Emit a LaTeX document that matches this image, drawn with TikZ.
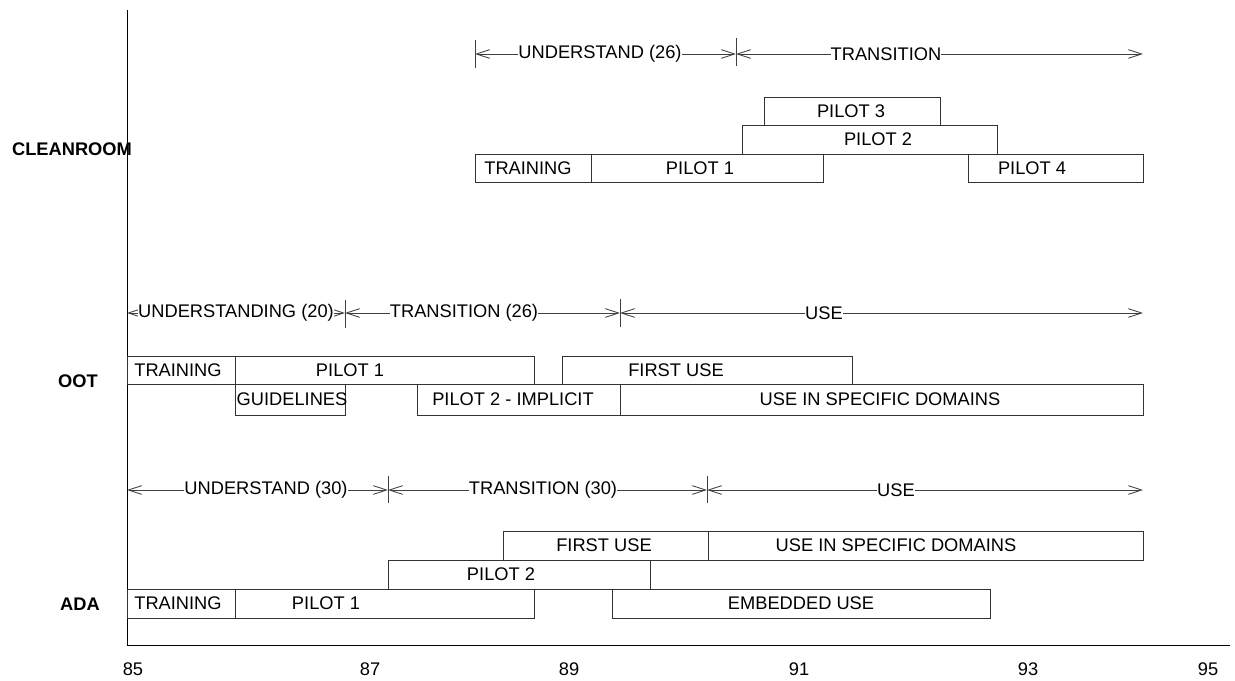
\documentclass[tikz,border=0pt]{standalone}
\usepackage{fontspec}
\setmainfont{Liberation Sans}
\usetikzlibrary{arrows.meta}
\begin{document}
\begin{tikzpicture}[x=0.75pt,y=-0.75pt,
  font=\fontsize{13.7}{16}\selectfont,
  bar/.style={draw=black!80, line width=0.75pt, rectangle, inner sep=0pt},
  txt/.style={inner sep=0pt, anchor=center},
  span/.style={draw=black!75, line width=0.65pt, {Straight Barb[length=10pt,width=6.5pt]}-{Straight Barb[length=10pt,width=6.5pt]}},
  lab/.style={fill=white, inner xsep=0pt, inner ysep=1pt},
  tick/.style={draw=black!75, line width=0.65pt},
  grp/.style={font=\fontsize{13.7}{16}\selectfont\bfseries},
  axis/.style={draw=black, line width=0.75pt}]
\useasboundingbox (0,0) rectangle (1235,681);
\newcommand\bx[6]{\node[bar, minimum width={(#3-#2)*0.75pt}, minimum height={(#5-#4)*0.75pt}, anchor=north west] (#1) at (#2,#4) {};}
% axes
\coordinate (ytop) at (127,10);
\coordinate (org) at (127,645);
\coordinate (xend) at (1230,645);
\draw[axis] (ytop) -- (org) -- (xend);
\node[txt] (t85) at (133,669) {85};
\node[txt] (t87) at (370,669) {87};
\node[txt] (t89) at (569,669) {89};
\node[txt] (t91) at (799,669) {91};
\node[txt] (t93) at (1028,669) {93};
\node[txt] (t95) at (1208,669) {95};
% group labels
\node[grp] (gclean) at (72,149) {CLEANROOM};
\node[grp] (goot) at (78,381) {OOT};
\node[grp] (gada) at (80,604) {ADA};
% ---------- CLEANROOM ----------
\coordinate (ca) at (475,54);
\coordinate (cb) at (736,54);
\coordinate (cc) at (1143,54);
\draw[tick] (475,40) -- (475,68);
\draw[tick] (736,38) -- (736,66);
\draw[span] (ca) -- (cb);
\draw[span] (cb) -- (cc);
\node[lab] (cl1) at (600,54) {UNDERSTAND (26)};
\node[lab] (cl2) at (886,54) {TRANSITION};
\bx{cp3}{764}{940}{97}{125}{}
\node[txt] (cp3t) at (851,111) {PILOT 3};
\bx{cp2}{742}{997}{125}{154}{}
\node[txt] (cp2t) at (878,139.5) {PILOT 2};
\bx{ctr}{475}{591}{154}{182}{}
\node[txt] (ctrt) at (528,168) {TRAINING};
\bx{cp1}{591}{823}{154}{182}{}
\node[txt] (cp1t) at (700,168) {PILOT 1};
\bx{cp4}{968}{1143}{154}{182}{}
\node[txt] (cp4t) at (1032,168) {PILOT 4};
% ---------- OOT ----------
\coordinate (oa) at (127,313);
\coordinate (ob) at (345,313);
\coordinate (oc) at (620,313);
\coordinate (od) at (1143,313);
\draw[tick] (345,300) -- (345,328);
\draw[tick] (620,299) -- (620,327);
\draw[span] (oa) -- (ob);
\draw[span] (ob) -- (oc);
\draw[span] (oc) -- (od);
\node[lab] (ol1) at (236,313) {UNDERSTANDING (20)};
\node[lab] (ol2) at (464,313) {TRANSITION (26)};
\node[lab] (ol3) at (824,313) {USE};
\bx{otr}{127}{235}{356}{384}{}
\node[txt] (otrt) at (178,370) {TRAINING};
\bx{op1}{235}{534}{356}{384}{}
\node[txt] (op1t) at (350,370) {PILOT 1};
\bx{ofu}{562}{852}{356}{384}{}
\node[txt] (ofut) at (676,370) {FIRST USE};
\bx{ogl}{235}{345}{384}{415}{}
\node[txt] (oglt) at (292,399.5) {GUIDELINES};
\bx{op2}{417}{620}{384}{415}{}
\node[txt] (op2t) at (513,399.5) {PILOT 2 - IMPLICIT};
\bx{ous}{620}{1143}{384}{415}{}
\node[txt] (oust) at (880,399.5) {USE IN SPECIFIC DOMAINS};
% ---------- ADA ----------
\coordinate (aa) at (127,490);
\coordinate (ab) at (388,490);
\coordinate (ac) at (707,490);
\coordinate (ad) at (1143,490);
\draw[tick] (388,476) -- (388,503);
\draw[tick] (707,476) -- (707,503);
\draw[span] (aa) -- (ab);
\draw[span] (ab) -- (ac);
\draw[span] (ac) -- (ad);
\node[lab] (al1) at (266,490) {UNDERSTAND (30)};
\node[lab] (al2) at (543,490) {TRANSITION (30)};
\node[lab] (al3) at (896,490) {USE};
\bx{afu}{503}{708}{531}{560}{}
\node[txt] (afut) at (604,545.5) {FIRST USE};
\bx{aus}{708}{1143}{531}{560}{}
\node[txt] (aust) at (896,545.5) {USE IN SPECIFIC DOMAINS};
\bx{ap2}{388}{650}{560}{589}{}
\node[txt] (ap2t) at (501,574.5) {PILOT 2};
\bx{atr}{127}{235}{589}{618}{}
\node[txt] (atrt) at (178,603.5) {TRAINING};
\bx{ap1}{235}{534}{589}{618}{}
\node[txt] (ap1t) at (326,603.5) {PILOT 1};
\bx{aem}{612}{990}{589}{618}{}
\node[txt] (aemt) at (801,603.5) {EMBEDDED USE};
\end{tikzpicture}
\end{document}
